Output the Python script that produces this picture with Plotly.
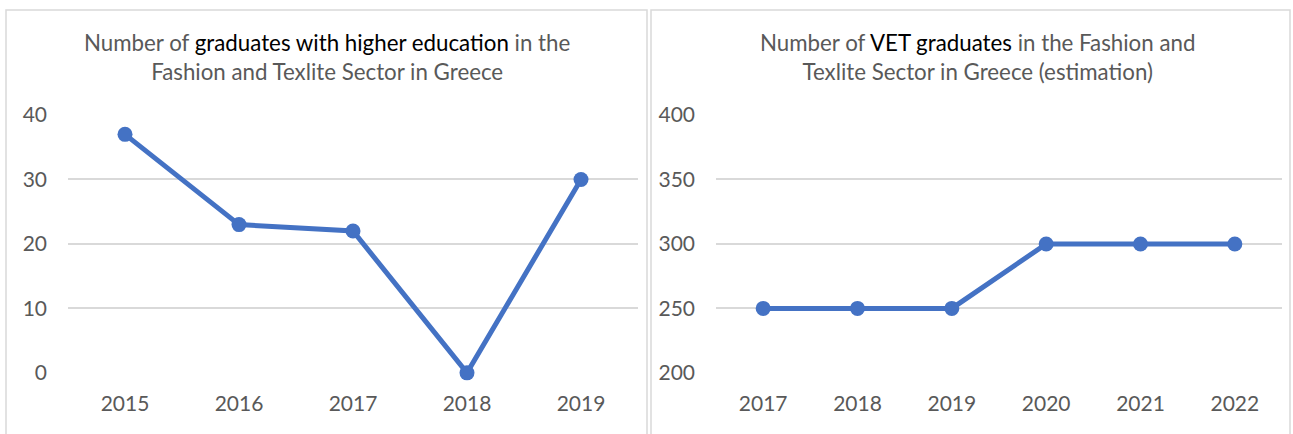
import plotly.graph_objects as go

W, H = 1293, 434

left_years = ["2015", "2016", "2017", "2018", "2019"]
left_values = [37, 23, 22, 0, 30]
left_ticks = [0, 10, 20, 30, 40]

right_years = ["2017", "2018", "2019", "2020", "2021", "2022"]
right_values = [250, 250, 250, 300, 300, 300]
right_ticks = [200, 250, 300, 350, 400]

left_title = ("Number of <span style='color:#000000'>graduates with higher education</span> in the"
              "<br>Fashion and Texlite Sector in Greece")
right_title = ("Number of <span style='color:#000000'>VET graduates</span> in the Fashion and"
               "<br>Texlite Sector in Greece (estimation)")

BLUE = "#4472C4"
GRID = "#D9D9D9"
TXT = "#595959"
FONT = "Lato"

fig = go.Figure()
fig.add_trace(go.Scatter(x=left_years, y=left_values, mode="lines+markers",
                         line=dict(color=BLUE, width=5), marker=dict(size=15, color=BLUE),
                         cliponaxis=False, xaxis="x", yaxis="y", showlegend=False))
fig.add_trace(go.Scatter(x=right_years, y=right_values, mode="lines+markers",
                         line=dict(color=BLUE, width=5), marker=dict(size=15, color=BLUE),
                         cliponaxis=False, xaxis="x2", yaxis="y2", showlegend=False))

def px(x):
    return x / W

def py(y):
    return 1 - y / H

ydom = [py(373), py(115)]
common_x = dict(showgrid=False, zeroline=False, showline=False, ticks="",
                tickfont=dict(family=FONT, size=21, color=TXT), ticklabelstandoff=16,
                type="category", fixedrange=True, automargin=False)
common_y = dict(showgrid=True, gridcolor=GRID, gridwidth=1.5, zeroline=False, showline=False,
                ticks="", tickfont=dict(family=FONT, size=21, color=TXT), ticklabelstandoff=20,
                fixedrange=True, automargin=False)

fig.update_layout(
    template="none",
    width=W, height=H,
    margin=dict(l=0, r=0, t=0, b=0, pad=0),
    paper_bgcolor="white", plot_bgcolor="white",
    xaxis=dict(domain=[px(68), px(638)], range=[-0.5, 4.5], anchor="y", **common_x),
    yaxis=dict(domain=ydom, range=[-0.02, 40], tickvals=left_ticks, anchor="x", **common_y),
    xaxis2=dict(domain=[px(716), px(1282)], range=[-0.5, 5.5], anchor="y2", **common_x),
    yaxis2=dict(domain=ydom, range=[199.9, 400], tickvals=right_ticks, anchor="x2", **common_y),
    annotations=[
        dict(text=left_title, x=px(327), y=py(57), xref="paper", yref="paper",
             xanchor="center", yanchor="middle", showarrow=False, align="center",
             font=dict(family=FONT, size=22.3, color=TXT)),
        dict(text=right_title, x=px(977), y=py(57), xref="paper", yref="paper",
             xanchor="center", yanchor="middle", showarrow=False, align="center",
             font=dict(family=FONT, size=22.3, color=TXT)),
    ],
    shapes=[
        dict(type="rect", xref="paper", yref="paper", x0=px(6), x1=px(647), y0=py(440), y1=py(10),
             line=dict(color=GRID, width=1.5), layer="below"),
        dict(type="rect", xref="paper", yref="paper", x0=px(651), x1=px(1290), y0=py(440), y1=py(10),
             line=dict(color=GRID, width=1.5), layer="below"),
    ],
)

fig.write_html("out.html")
